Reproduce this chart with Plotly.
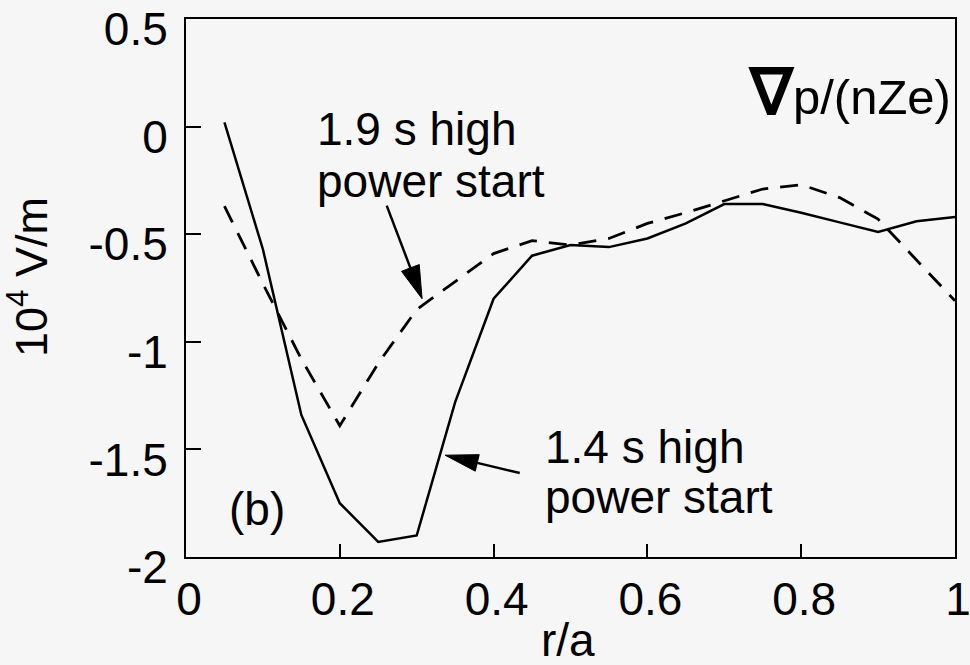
import math
import plotly.graph_objects as go

# ---- data ----
r_a = [0.05, 0.10, 0.15, 0.20, 0.25, 0.30, 0.35, 0.40, 0.45, 0.50,
       0.55, 0.60, 0.65, 0.70, 0.75, 0.80, 0.85, 0.90, 0.95, 1.00]
start_14 = [0.02, -0.57, -1.34, -1.75, -1.93, -1.90, -1.28, -0.80, -0.60, -0.55,
            -0.56, -0.52, -0.45, -0.36, -0.36, -0.40, -0.445, -0.49, -0.44, -0.42]
start_19 = [-0.37, -0.73, -1.08, -1.39, -1.10, -0.85, -0.72, -0.59, -0.53, -0.55,
            -0.52, -0.45, -0.40, -0.345, -0.29, -0.27, -0.33, -0.43, -0.62, -0.81]

x_ticks = [0, 0.2, 0.4, 0.6, 0.8, 1]
x_ticktext = ["0", "0.2", "0.4", "0.6", "0.8", "1"]
y_ticks = [0.5, 0, -0.5, -1, -1.5, -2]
y_ticktext = ["0.5", "0", "-0.5", "-1", "-1.5", "-2"]

# ---- layout constants ----
W, H = 970, 665
ML, MR, MT, MB = 186, 15, 19, 108
XR = [0, 1]
YR = [-2, 0.5]
PW, PH = W - ML - MR, H - MT - MB
sx = PW / (XR[1] - XR[0])
sy = PH / (YR[1] - YR[0])

FONT = "Liberation Sans, Arial, Helvetica, sans-serif"
BG = "#f6f6f6"

fig = go.Figure()
fig.add_trace(go.Scatter(x=r_a, y=start_19, mode="lines",
                         line=dict(color="black", width=2.8, dash="18px,12px"),
                         name="1.9 s high power start", showlegend=False))
fig.add_trace(go.Scatter(x=r_a, y=start_14, mode="lines",
                         line=dict(color="black", width=2.5),
                         name="1.4 s high power start", showlegend=False))


def arrow(tail, tip, head_len, head_w):
    """Arrow drawn in data coordinates; head sized in pixels."""
    dx = (tip[0] - tail[0]) * sx
    dy = (tip[1] - tail[1]) * sy
    L = math.hypot(dx, dy)
    ux, uy = dx / L, dy / L
    bx = tip[0] - ux * head_len / sx
    by = tip[1] - uy * head_len / sy
    px, py = -uy, ux
    b1 = (bx + px * head_w / 2 / sx, by + py * head_w / 2 / sy)
    b2 = (bx - px * head_w / 2 / sx, by - py * head_w / 2 / sy)
    fig.add_shape(type="line", x0=tail[0], y0=tail[1], x1=bx, y1=by,
                  line=dict(color="black", width=2.5))
    fig.add_shape(type="path",
                  path=f"M {tip[0]} {tip[1]} L {b1[0]} {b1[1]} L {b2[0]} {b2[1]} Z",
                  fillcolor="black", line=dict(color="black", width=1))


arrow((0.261, -0.367), (0.307, -0.80), 33, 19)
arrow((0.434, -1.61), (0.337, -1.527), 33, 17)

ann_font = dict(family=FONT, size=46, color="black")
labels = [
    ("1.9 s high", 0.1677, -0.012),
    ("power start", 0.1677, -0.251),
    ("1.4 s high", 0.464, -1.490),
    ("power start", 0.464, -1.722),
    ("(b)", 0.0533, -1.775),
]
for txt, x, y in labels:
    fig.add_annotation(x=x, y=y, xref="x", yref="y", text=txt, showarrow=False,
                       xanchor="left", yanchor="middle", font=ann_font)

fig.add_annotation(x=0.998, y=0.16, xref="x", yref="y",
                   text="<span style='font-size:64px'><b>∇</b></span>p/(nZe)",
                   showarrow=False, xanchor="right", yanchor="middle",
                   font=dict(family=FONT, size=49, color="black"))

# axis titles
fig.add_annotation(x=(28 - ML) / PW, y=(H - MB - 277) / PH, xref="paper", yref="paper",
                   text="10<sup>4</sup> V/m", textangle=-90, showarrow=False,
                   xanchor="center", yanchor="middle",
                   font=dict(family=FONT, size=45, color="black"))
fig.add_annotation(x=(568 - ML) / PW, y=(H - MB - 640) / PH, xref="paper", yref="paper",
                   text="r/a", showarrow=False, xanchor="center", yanchor="middle",
                   font=dict(family=FONT, size=46, color="black"))

axis_common = dict(showgrid=False, zeroline=False, showline=True, linecolor="black",
                   linewidth=2, mirror=True, ticks="inside", tickcolor="black",
                   tickwidth=2, automargin=False, ticklabeloverflow="allow",
                   tickfont=dict(family=FONT, size=46, color="black"))

fig.update_xaxes(range=XR, tickvals=x_ticks, ticktext=x_ticktext, ticklen=13,
                 ticklabelstandoff=1, ticklabelshift=3, **axis_common)
fig.update_yaxes(range=YR, tickvals=y_ticks, ticktext=y_ticktext, ticklen=15,
                 ticklabelstandoff=7, ticklabelshift=10, **axis_common)

fig.update_layout(width=W, height=H, margin=dict(l=ML, r=MR, t=MT, b=MB),
                  plot_bgcolor=BG, paper_bgcolor=BG, showlegend=False)

fig.write_html("out.html")
